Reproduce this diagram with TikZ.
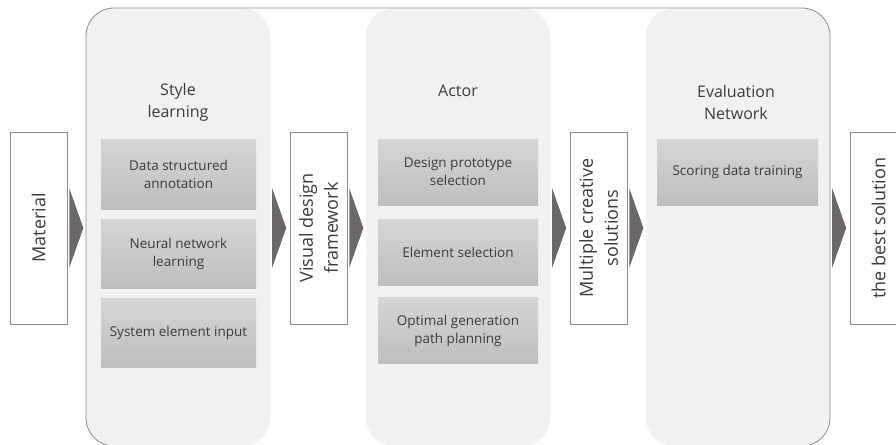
\documentclass[tikz,border=0pt]{standalone}
\usepackage{fontspec}
\setmainfont{Open Sans}
\usetikzlibrary{calc}
\definecolor{panelfill}{HTML}{F1F1F1}
\definecolor{outlinecol}{HTML}{8C8C8C}
\definecolor{txt}{HTML}{3C3C3C}
\definecolor{chev}{HTML}{6D6868}
\definecolor{boxtop}{HTML}{D5D5D5}
\definecolor{boxbot}{HTML}{BEBEBE}
\begin{document}
\begin{tikzpicture}[x=1pt,y=-1pt,
  panel/.style={fill=panelfill, rounded corners=28pt, minimum width=184pt, minimum height=438pt, inner sep=0pt},
  stage/.style={draw=outlinecol, line width=0.7pt, fill=white, minimum width=57pt, minimum height=192pt, inner sep=0pt},
  stagetext/.style={text=txt, font=\fontsize{18}{25}\selectfont, align=center, rotate=90},
  inner/.style={top color=boxtop, bottom color=boxbot, inner sep=0pt, text=txt, align=center, font=\fontsize{13.5}{18}\selectfont},
  title/.style={text=txt, align=center, font=\fontsize{16}{22}\selectfont},
  chevron/.style={fill=chev}
]
\useasboundingbox (0,0) rectangle (896,444);
\fill[white] (0,0) rectangle (896,444);

% panels
\node[panel] (p1) at (178,227) {};
\node[panel] (p2) at (458,227) {};
\node[panel] (p3) at (738,227) {};

% outline
\draw[outlinecol, line width=0.8pt, rounded corners=28pt] (86,8) rectangle (830,446);

% stage boxes
\node[stage] (m) at (38.5,228) {};
\node[stagetext] (mt) at (m.center) {Material};
\node[stage] (v) at (318.5,228) {};
\node[stagetext] (vt) at (v.center) {Visual design\\framework};
\node[stage] (s) at (598.5,228) {};
\node[stagetext] (st) at (s.center) {Multiple creative\\solutions};
\node[stage] (b) at (878.5,228) {};
\node[stagetext] (bt) at (b.center) {the best solution};

% titles
\node[title] (t1) at (178,102) {Style\\learning};
\node[title] (t2) at (458,91) {Actor};
\node[title] (t3) at (736,102) {Evaluation\\Network};

% inner boxes
\node[inner, minimum width=155pt, minimum height=70pt] (a1) at (178.5,174) {Data structured\\annotation};
\node[inner, minimum width=155pt, minimum height=69pt] (a2) at (178.5,253.5) {Neural network\\learning};
\node[inner, minimum width=155pt, minimum height=69pt] (a3) at (178.5,332.5) {System element input};

\node[inner, minimum width=160pt, minimum height=66pt] (b1) at (458,172) {Design prototype\\selection};
\node[inner, minimum width=160pt, minimum height=66pt] (b2) at (458,252) {Element selection};
\node[inner, minimum width=160pt, minimum height=66pt] (b3) at (458,330.5) {Optimal generation\\path planning};

\node[inner, minimum width=161pt, minimum height=66pt] (c1) at (737.5,172) {Scoring data training};

% chevrons
\coordinate (k1) at (m.east);
\coordinate (k2) at (p1.east |- m.east);
\coordinate (k3) at (v.east);
\coordinate (k4) at (p2.east |- m.east);
\coordinate (k5) at (s.east);
\coordinate (k6) at (p3.east |- m.east);
\foreach \k in {k1,k2,k3,k4,k5,k6}{
  \fill[chevron] ($(\k)+(2,-39.5)$) -- ($(\k)+(16,0)$) -- ($(\k)+(2,39.5)$) -- cycle;
}
\end{tikzpicture}
\end{document}
